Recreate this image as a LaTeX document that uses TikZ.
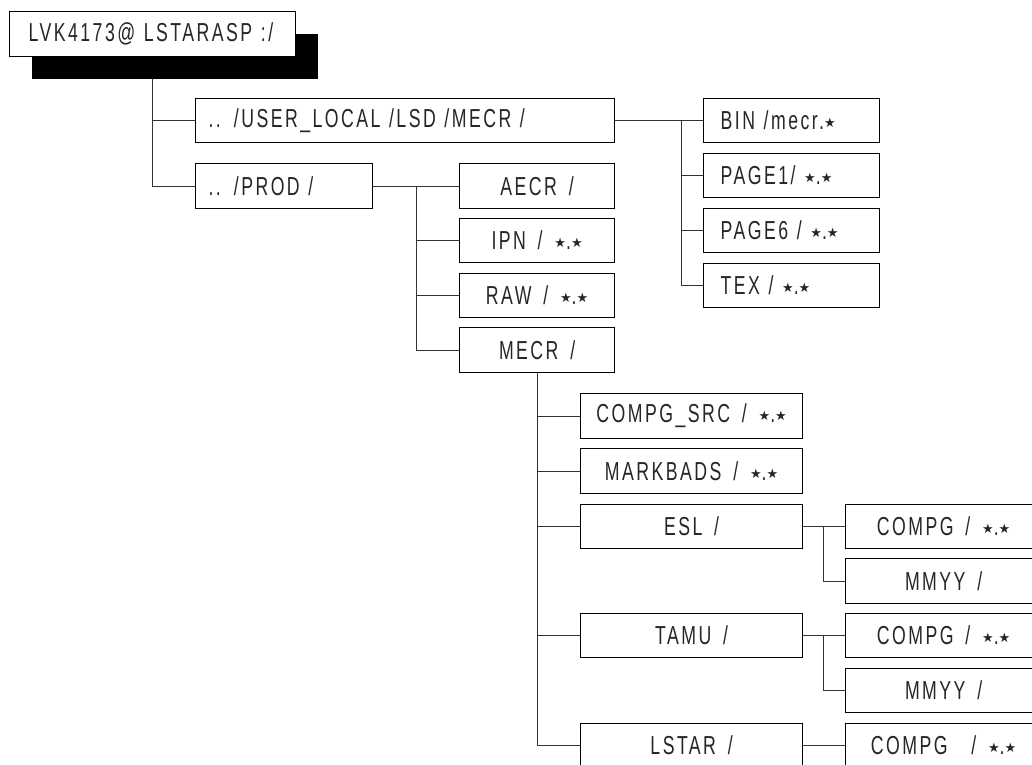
\documentclass[tikz,border=0pt]{standalone}
\usepackage{fontspec}
\setmainfont[FakeStretch=0.68, LetterSpace=9.5, WordSpace=1.6]{Liberation Sans}
\newfontfamily\symfont{DejaVu Sans}
\usetikzlibrary{shadows,calc,backgrounds}
\newcommand{\st}{{\symfont\fontsize{13}{13}\selectfont\raisebox{2pt}{★}}}
\begin{document}
\begin{tikzpicture}[x=1pt,y=-1pt,
  every node/.style={font=\fontsize{26}{28}\selectfont, text=black!85},
  box/.style={draw, line width=1.2pt, anchor=north west, minimum height=44pt, inner sep=0pt, fill=white},
  lbox/.style={box, align=left},
  link/.style={line width=0.9pt, black!80}]
\path[use as bounding box] (0,0) rectangle (1032,764);
\clip (0,0) rectangle (1032,764);

% root
\node[lbox, inner xsep=19pt, text width=248pt, minimum height=45pt,
  drop shadow={shadow xshift=22pt, shadow yshift=-22pt, fill=black, opacity=1}] (root) at (9,11) {\mbox{LVK4173@ LSTARASP :/}};

% level 1
\node[lbox, inner xsep=13pt, text width=393pt] (ul) at (195,98) {\mbox{.. /USER\_LOCAL /LSD /MECR /}};
\node[lbox, inner xsep=13pt, text width=151pt, minimum height=45pt] (prod) at (195,163) {\mbox{.. /PROD /}};

% USER_LOCAL children
\node[lbox, inner xsep=17pt, text width=142pt] (bin) at (703,98) {\mbox{BIN /mecr.\st}};
\node[lbox, inner xsep=17pt, text width=142pt] (page1) at (703,153) {\mbox{PAGE1/ \st.\st}};
\node[lbox, inner xsep=17pt, text width=142pt] (page6) at (703,208) {\mbox{PAGE6 / \st.\st}};
\node[lbox, inner xsep=17pt, text width=142pt] (tex) at (703,263) {\mbox{TEX / \st.\st}};

% PROD children
\node[box, minimum width=155pt, minimum height=45pt] (aecr) at (459,163) {AECR /};
\node[box, minimum width=155pt] (ipn) at (459,218) {IPN / \st.\st};
\node[box, minimum width=155pt] (raw) at (459,273) {RAW / \st.\st};
\node[box, minimum width=155pt, minimum height=45pt] (mecr) at (459,327) {MECR /};

% MECR children
\node[box, minimum width=222pt, minimum height=45pt] (csrc) at (580,393) {COMPG\_SRC / \st.\st};
\node[box, minimum width=222pt, minimum height=45pt] (mark) at (580,448) {MARKBADS / \st.\st};
\node[box, minimum width=222pt] (esl) at (580,504) {ESL /};
\node[box, minimum width=222pt] (tamu) at (580,613) {TAMU /};
\node[box, minimum width=222pt] (lstar) at (580,723) {LSTAR /};

% third level
\node[box, minimum width=196pt] (c1) at (845,504) {COMPG / \st.\st};
\node[box, minimum width=196pt, minimum height=45pt] (m1) at (845,558) {MMYY /};
\node[box, minimum width=196pt] (c2) at (845,613) {COMPG / \st.\st};
\node[box, minimum width=196pt] (m2) at (845,668) {MMYY /};
\node[box, minimum width=196pt] (c3) at (845,723) {COMPG \ / \st.\st};

\begin{scope}[on background layer]
\coordinate (t0) at ($(root.south west)+(143,0)$);
\draw[link] (t0) |- (ul.west);
\draw[link] (t0) |- (prod.west);
\draw[link] (ul.east) -- (bin.west);
\coordinate (t1) at ($(bin.west)+(-22,0)$);
\draw[link] (t1) |- (page1.west);
\draw[link] (t1) |- (page6.west);
\draw[link] (t1) |- (tex.west);
\draw[link] (prod.east) -- (aecr.west);
\coordinate (t2) at ($(aecr.west)+(-43,0)$);
\draw[link] (t2) |- (ipn.west);
\draw[link] (t2) |- (raw.west);
\draw[link] (t2) |- (mecr.west);
\draw[link] (mecr.south) |- (csrc.west);
\draw[link] (mecr.south) |- (mark.west);
\draw[link] (mecr.south) |- (esl.west);
\draw[link] (mecr.south) |- (tamu.west);
\draw[link] (mecr.south) |- (lstar.west);
\draw[link] (esl.east) -- (c1.west);
\coordinate (t3) at ($(c1.west)+(-22,0)$);
\draw[link] (t3) |- (m1.west);
\draw[link] (tamu.east) -- (c2.west);
\coordinate (t4) at ($(c2.west)+(-22,0)$);
\draw[link] (t4) |- (m2.west);
\draw[link] (lstar.east) -- (c3.west);
\end{scope}
\end{tikzpicture}
\end{document}
